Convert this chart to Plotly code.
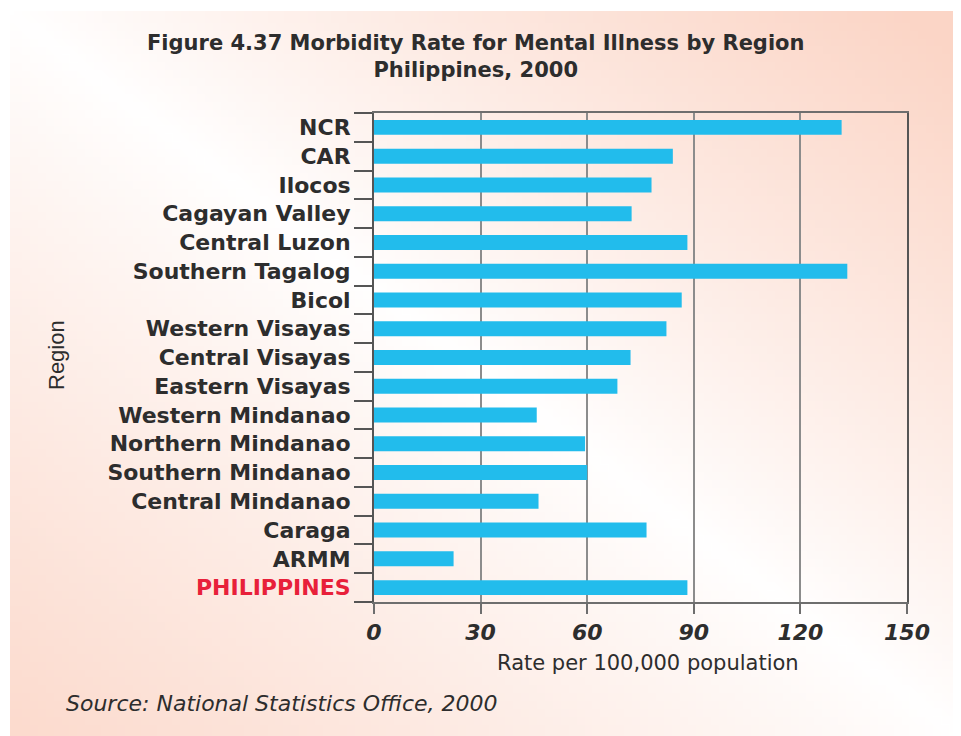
import base64
import struct
import zlib

import plotly.graph_objects as go

# ---------------- data ----------------
regions = [
    "NCR", "CAR", "Ilocos", "Cagayan Valley", "Central Luzon",
    "Southern Tagalog", "Bicol", "Western Visayas", "Central Visayas",
    "Eastern Visayas", "Western Mindanao", "Northern Mindanao",
    "Southern Mindanao", "Central Mindanao", "Caraga", "ARMM", "PHILIPPINES",
]
rates = [
    131.6, 84.1, 78.1, 72.5, 88.2,
    133.2, 86.6, 82.3, 72.2,
    68.5, 45.8, 59.4,
    60.0, 46.3, 76.7, 22.4, 88.2,
]
x_ticks = [0, 30, 60, 90, 120, 150]

title_text = "Figure 4.37 Morbidity Rate for Mental Illness by Region<br>Philippines, 2000"
x_title = "Rate per 100,000 population"
y_title = "Region"
source = "Source: National Statistics Office, 2000"

# ---------------- geometry ----------------
W, H = 961, 736
OFF = 8  # page body margin offset
L, R, T, B = 374 - OFF, 907 - OFF, 113 - OFF, 602 - OFF  # plot area in figure px


def px(x):
    return (x - OFF - L) / (R - L)


def py(y):
    return (B - (y - OFF)) / (B - T)


# ---------------- background gradient image ----------------
def gradient_png(w, h):
    peach = (251, 213, 198)
    rows = []
    for j in range(h):
        row = bytearray([0])
        for i in range(w):
            u = i / (w - 1) - j / (h - 1)
            k = 1.05 if u > 0 else 0.85
            t = min(1.0, abs(u) * k) ** 0.9
            for c in peach:
                row.append(int(round(255 * (1 - t) + c * t)))
        rows.append(bytes(row))
    raw = b"".join(rows)

    def chunk(tag, data):
        return (struct.pack(">I", len(data)) + tag + data
                + struct.pack(">I", zlib.crc32(tag + data) & 0xFFFFFFFF))

    png = (b"\x89PNG\r\n\x1a\n"
           + chunk(b"IHDR", struct.pack(">IIBBBBB", w, h, 8, 2, 0, 0, 0))
           + chunk(b"IDAT", zlib.compress(raw, 9))
           + chunk(b"IEND", b""))
    return "data:image/png;base64," + base64.b64encode(png).decode()


bg_uri = gradient_png(120, 92)

# ---------------- figure ----------------
ticktext = [
    r if r != "PHILIPPINES" else "<span style='color:#e8203a'>PHILIPPINES</span>"
    for r in regions
]

fig = go.Figure(
    go.Bar(
        x=rates,
        y=regions,
        orientation="h",
        marker=dict(color="#22BCEC", line=dict(width=0)),
        hoverinfo="x+y",
    )
)

TEXT = "#2d2d2d"

fig.update_layout(
    width=W,
    height=H,
    margin=dict(l=L, r=W - R, t=T, b=H - B, pad=0),
    paper_bgcolor="white",
    plot_bgcolor="white",
    bargap=0.48,
    showlegend=False,
    images=[
        dict(
            source=bg_uri,
            xref="paper", yref="paper",
            x=px(10), y=py(11),
            sizex=px(961) - px(10), sizey=py(11) - py(736),
            xanchor="left", yanchor="top",
            sizing="stretch",
            layer="below",
        )
    ],
    xaxis=dict(
        range=[0, 150],
        tickmode="array",
        tickvals=x_ticks,
        ticktext=[str(v) for v in x_ticks],
        ticks="outside",
        ticklen=10,
        tickwidth=2,
        tickcolor="#6e6e6e",
        tickfont=dict(family="DejaVu Sans", size=22, color=TEXT,
                      weight="bold", style="italic"),
        showgrid=True,
        gridcolor="#8c8c8c",
        gridwidth=2,
        zeroline=False,
        showline=True,
        linecolor="#6e6e6e",
        linewidth=2,
        mirror=True,
        fixedrange=True,
    ),
    yaxis=dict(
        type="category",
        autorange="reversed",
        tickmode="array",
        tickvals=regions,
        ticktext=ticktext,
        tickson="boundaries",
        ticks="outside",
        ticklen=18,
        tickwidth=1.5,
        tickcolor="#555555",
        ticklabelstandoff=17,
        tickfont=dict(family="DejaVu Sans", size=22, color=TEXT, weight="bold"),
        showgrid=False,
        zeroline=False,
        showline=True,
        linecolor="#555555",
        linewidth=2,
        mirror=True,
        fixedrange=True,
    ),
    annotations=[
        dict(text=title_text, xref="paper", yref="paper",
             x=px(475), y=py(56), xanchor="center", yanchor="middle",
             align="center", showarrow=False,
             font=dict(family="DejaVu Sans", size=21, color=TEXT, weight="bold")),
        dict(text=x_title, xref="paper", yref="paper",
             x=px(648), y=py(663), xanchor="center", yanchor="middle",
             showarrow=False,
             font=dict(family="DejaVu Sans", size=21, color=TEXT)),
        dict(text=y_title, xref="paper", yref="paper",
             x=px(56), y=py(355), xanchor="center", yanchor="middle",
             textangle=-90, showarrow=False,
             font=dict(family="Liberation Sans", size=22, color=TEXT)),
        dict(text=source, xref="paper", yref="paper",
             x=px(64), y=py(703), xanchor="left", yanchor="middle",
             showarrow=False,
             font=dict(family="DejaVu Sans", size=22, color=TEXT, style="italic")),
    ],
)

fig.write_html("out.html")
